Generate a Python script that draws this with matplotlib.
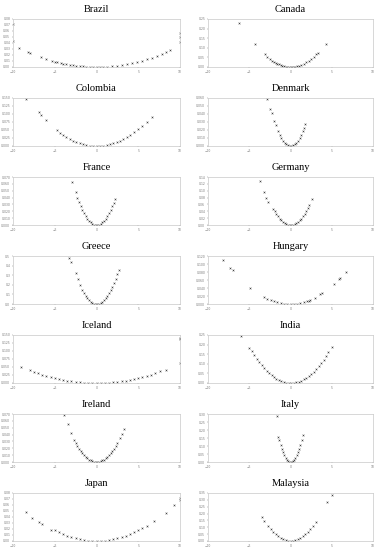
import numpy as np
import matplotlib
matplotlib.use("Agg")
import matplotlib.pyplot as plt

# 各国のデータ (x: 偏差, y: 値) - 画像から読み取った推定値
countries = ["Brazil", "Canada", "Colombia", "Denmark", "France", "Germany", "Greece",
             "Hungary", "Iceland", "India", "Ireland", "Italy", "Japan", "Malaysia"]

brazil_x = [-10, -10, -9.3, -8.2, -8.0, -6.7, -6.0, -5.3, -5.0, -4.7, -4.3, -4.0, -3.6, -3.2, -2.8, -2.4, -2.0, -1.6,
            -1.2, -0.8, -0.4, 0.0, 0.4, 0.8, 1.3, 1.8, 2.4, 3.0, 3.6, 4.2, 4.8, 5.4, 6.0, 6.6, 7.2, 7.8, 8.3, 8.8,
            10, 10, 10]
brazil_y = [0.072, 0.043, 0.0311, 0.0242, 0.0230, 0.0162, 0.0130, 0.0101, 0.0090, 0.0080, 0.0067, 0.0058, 0.0047,
            0.0037, 0.0028, 0.0021, 0.0014, 0.0009, 0.0005, 0.0002, 0.0001, 0.0, 0.0001, 0.0002, 0.0006, 0.0012,
            0.0021, 0.0032, 0.0047, 0.0064, 0.0083, 0.0105, 0.0130, 0.0157, 0.0187, 0.0219, 0.0248, 0.0279,
            0.057, 0.050, 0.042]

canada_x = [-6.3, -4.3, -3.1, -2.8, -2.5, -2.2, -2.0, -1.8, -1.6, -1.4, -1.2, -1.0, -0.8, -0.6, -0.4, -0.2, 0.0,
            0.2, 0.4, 0.6, 0.8, 1.0, 1.3, 1.6, 1.9, 2.2, 2.5, 2.8, 3.1, 3.3, 4.3]
canada_y = [0.229, 0.120, 0.066, 0.054, 0.043, 0.033, 0.028, 0.022, 0.018, 0.0135, 0.010, 0.0069, 0.0044, 0.0025,
            0.0011, 0.0003, 0.0, 0.0003, 0.0011, 0.0025, 0.0044, 0.0069, 0.0117, 0.0177, 0.025, 0.033, 0.043,
            0.054, 0.066, 0.075, 0.120]

colombia_x = [-8.5, -6.9, -6.7, -6.0, -4.75, -4.4, -4.0, -3.6, -3.2, -2.8, -2.4, -2.0, -1.6, -1.2, -0.8, -0.4, 0.0,
              0.4, 0.8, 1.2, 1.6, 2.0, 2.4, 2.8, 3.2, 3.6, 4.0, 4.5, 5.0, 5.5, 6.0, 6.6]
colombia_y = [0.148, 0.105, 0.098, 0.080, 0.050, 0.041, 0.034, 0.027, 0.0215, 0.0165, 0.012, 0.0084, 0.0054,
              0.003, 0.0013, 0.0003, 0.0, 0.0003, 0.0013, 0.003, 0.0054, 0.0084, 0.012, 0.0165, 0.0215, 0.027,
              0.034, 0.0425, 0.0525, 0.0635, 0.0756, 0.091]

denmark_x = [-2.85, -2.45, -2.3, -2.0, -1.8, -1.5, -1.3, -1.1, -0.9, -0.7, -0.5, -0.3, -0.1, 0.1, 0.3, 0.5, 0.7,
             0.9, 1.1, 1.3, 1.5, 1.65, 1.8]
denmark_y = [0.059, 0.046, 0.041, 0.0315, 0.026, 0.019, 0.0142, 0.0102, 0.0068, 0.0041, 0.0021, 0.0008, 0.0001,
             0.0001, 0.0008, 0.0021, 0.0041, 0.0068, 0.0102, 0.0142, 0.019, 0.023, 0.027]

france_x = [-2.9, -2.5, -2.3, -2.1, -1.9, -1.7, -1.5, -1.3, -1.1, -0.9, -0.7, -0.5, -0.3, -0.1, 0.1, 0.3, 0.5, 0.7,
            0.9, 1.1, 1.3, 1.5, 1.7, 1.9, 2.05, 2.2]
france_y = [0.0625, 0.048, 0.040, 0.034, 0.0278, 0.0222, 0.0173, 0.013, 0.0093, 0.0062, 0.0038, 0.0019, 0.0007,
            0.0001, 0.0001, 0.0007, 0.0019, 0.0038, 0.0062, 0.0093, 0.013, 0.0173, 0.0222, 0.0278, 0.0324, 0.0373]

germany_x = [-3.75, -3.2, -2.95, -2.7, -2.1, -1.9, -1.7, -1.5, -1.3, -1.1, -0.9, -0.7, -0.5, -0.3, -0.1, 0.1, 0.3,
             0.5, 0.7, 0.9, 1.1, 1.3, 1.5, 1.7, 1.9, 2.1, 2.3, 2.6]
germany_y = [0.129, 0.096, 0.080, 0.067, 0.046, 0.0397, 0.0318, 0.0248, 0.0186, 0.0133, 0.0089, 0.0054, 0.0028,
             0.001, 0.0001, 0.0001, 0.001, 0.0028, 0.0054, 0.0089, 0.0133, 0.0186, 0.0248, 0.0318, 0.0397, 0.0485,
             0.058, 0.075]

greece_x = [-3.3, -3.1, -2.5, -2.2, -2.0, -1.75, -1.5, -1.3, -1.1, -0.9, -0.7, -0.5, -0.3, -0.1, 0.1, 0.3, 0.5,
            0.7, 0.9, 1.1, 1.3, 1.5, 1.7, 1.9, 2.1, 2.3, 2.5, 2.65]
greece_y = [0.48, 0.44, 0.32, 0.26, 0.20, 0.15, 0.112, 0.085, 0.06, 0.04, 0.025, 0.0125, 0.0045, 0.0005, 0.0005,
            0.0045, 0.0125, 0.025, 0.04, 0.06, 0.085, 0.112, 0.145, 0.18, 0.22, 0.265, 0.31, 0.35]

hungary_x = [-8.2, -7.3, -7.0, -4.85, -3.2, -2.8, -2.4, -2.0, -1.6, -1.2, -0.8, -0.4, 0.0, 0.4, 0.8, 1.2, 1.6, 2.0,
             2.2, 2.4, 3.0, 3.6, 3.8, 5.25, 5.85, 6.0, 6.75]
hungary_y = [0.111, 0.089, 0.084, 0.039, 0.018, 0.0137, 0.010, 0.007, 0.0045, 0.0025, 0.0011, 0.0003, 0.0, 0.0003,
             0.0011, 0.0025, 0.0045, 0.007, 0.0085, 0.010, 0.015, 0.025, 0.027, 0.050, 0.063, 0.065, 0.080]

iceland_x = [-9.05, -8.0, -7.5, -7.0, -6.5, -6.0, -5.5, -5.0, -4.5, -4.0, -3.5, -3.0, -2.5, -2.0, -1.5, -1.0, -0.5,
             0.0, 0.5, 1.0, 1.5, 2.0, 2.5, 3.0, 3.5, 4.0, 4.5, 5.0, 5.5, 6.0, 6.5, 7.0, 7.6, 8.35, 10, 10, 10]
iceland_y = [0.051, 0.040, 0.035, 0.030, 0.026, 0.022, 0.019, 0.0155, 0.0126, 0.0099, 0.0076, 0.0056, 0.0039,
             0.0025, 0.0014, 0.0006, 0.0002, 0.0, 0.0002, 0.0006, 0.0014, 0.0025, 0.0039, 0.0056, 0.0076, 0.0099,
             0.0126, 0.0155, 0.019, 0.022, 0.026, 0.030, 0.036, 0.042, 0.142, 0.137, 0.061]

india_x = [-6.0, -5.0, -4.7, -4.4, -4.1, -3.8, -3.5, -3.2, -2.9, -2.6, -2.3, -2.0, -1.7, -1.4, -1.1, -0.8, -0.5,
           -0.2, 0.1, 0.4, 0.7, 1.0, 1.3, 1.6, 1.9, 2.2, 2.5, 2.8, 3.1, 3.4, 3.7, 4.0, 4.3, 4.6, 5.05]
india_y = [0.246, 0.18, 0.166, 0.145, 0.126, 0.108, 0.092, 0.077, 0.063, 0.051, 0.040, 0.030, 0.0217, 0.0147,
           0.0091, 0.0048, 0.0019, 0.0003, 0.0001, 0.0012, 0.0037, 0.0075, 0.0127, 0.0192, 0.027, 0.036, 0.047,
           0.059, 0.072, 0.087, 0.103, 0.12, 0.139, 0.159, 0.19]

ireland_x = [-3.85, -3.4, -3.0, -2.7, -2.5, -2.3, -2.1, -1.9, -1.7, -1.5, -1.3, -1.1, -0.9, -0.7, -0.5, -0.3, -0.1,
             0.1, 0.3, 0.5, 0.7, 0.9, 1.1, 1.3, 1.5, 1.7, 1.9, 2.1, 2.3, 2.5, 2.8, 3.05, 3.3]
ireland_y = [0.0686, 0.055, 0.042, 0.032, 0.0275, 0.0233, 0.0194, 0.0159, 0.0127, 0.0099, 0.0074, 0.0053, 0.0036,
             0.0022, 0.0011, 0.0004, 0.0001, 0.0001, 0.0004, 0.0011, 0.0022, 0.0036, 0.0053, 0.0074, 0.0099, 0.0127,
             0.0159, 0.0194, 0.0233, 0.0275, 0.0345, 0.041, 0.048]

italy_x = [-1.6, -1.5, -1.35, -1.2, -1.05, -0.9, -0.75, -0.6, -0.45, -0.3, -0.15, 0.0, 0.15, 0.3, 0.45, 0.6, 0.75,
           0.9, 1.05, 1.2, 1.35, 1.5]
italy_y = [0.29, 0.155, 0.137, 0.108, 0.083, 0.061, 0.042, 0.027, 0.015, 0.0068, 0.0017, 0.0, 0.0017, 0.0068,
           0.015, 0.027, 0.042, 0.061, 0.083, 0.108, 0.137, 0.17]

japan_x = [-8.5, -7.7, -6.9, -6.5, -5.5, -5.0, -4.5, -4.0, -3.5, -3.0, -2.5, -2.0, -1.5, -1.0, -0.5, 0.0, 0.5, 1.0,
           1.5, 2.0, 2.5, 3.0, 3.5, 4.0, 4.5, 5.0, 5.5, 6.0, 6.9, 8.3, 9.3, 10, 10]
japan_y = [0.0476, 0.039, 0.031, 0.029, 0.019, 0.0178, 0.0144, 0.0114, 0.0087, 0.0064, 0.0044, 0.0028, 0.0016,
           0.0007, 0.0002, 0.0, 0.0002, 0.0007, 0.0016, 0.0028, 0.0044, 0.0064, 0.0087, 0.0114, 0.0144, 0.0178,
           0.0215, 0.0256, 0.034, 0.046, 0.060, 0.071, 0.068]

malaysia_x = [-3.5, -3.2, -2.7, -2.4, -2.1, -1.8, -1.5, -1.2, -0.9, -0.6, -0.3, 0.0, 0.3, 0.6, 0.9, 1.2, 1.5, 1.8,
              2.1, 2.4, 2.7, 3.1, 4.4, 5.0]
malaysia_y = [0.177, 0.149, 0.107, 0.085, 0.065, 0.048, 0.033, 0.021, 0.012, 0.0053, 0.0013, 0.0, 0.0013, 0.0053,
              0.012, 0.021, 0.033, 0.048, 0.065, 0.085, 0.108, 0.142, 0.287, 0.336]

# y軸の上限と目盛り間隔
y_top = [0.08, 0.25, 0.15, 0.06, 0.07, 0.14, 0.5, 0.12, 0.15, 0.25, 0.07, 0.30, 0.08, 0.35]
y_step = [0.01, 0.05, 0.025, 0.01, 0.01, 0.02, 0.1, 0.02, 0.025, 0.05, 0.01, 0.05, 0.01, 0.05]
y_fmt = ["%.2f", "%.2f", "%.3f", "%.3f", "%.3f", "%.2f", "%.1f", "%.3f", "%.3f", "%.2f", "%.3f", "%.2f", "%.2f", "%.2f"]
x_ticks = [-10, -5, 0, 5, 10]

xs = [brazil_x, canada_x, colombia_x, denmark_x, france_x, germany_x, greece_x,
      hungary_x, iceland_x, india_x, ireland_x, italy_x, japan_x, malaysia_x]
ys = [brazil_y, canada_y, colombia_y, denmark_y, france_y, germany_y, greece_y,
      hungary_y, iceland_y, india_y, ireland_y, italy_y, japan_y, malaysia_y]

W, H = 377, 550
fig = plt.figure(figsize=(W / 100, H / 100), dpi=100)

for i, name in enumerate(countries):
    row, col = i // 2, i % 2
    left = 13 if col == 0 else 208
    width = 167 if col == 0 else 165
    top = 19 + 79 * row
    height = 48
    ax = fig.add_axes([left / W, 1 - (top + height) / H, width / W, height / H])
    ax.scatter(xs[i], ys[i], marker="x", s=1.6, color="#444444", linewidths=0.4)
    ax.set_xlim(-10, 10)
    ax.set_ylim(0, y_top[i])
    ax.set_xticks(x_ticks)
    ax.set_yticks(np.arange(0, y_top[i] + y_step[i] / 2, y_step[i]))
    ax.yaxis.set_major_formatter(matplotlib.ticker.FormatStrFormatter(y_fmt[i]))
    ax.tick_params(labelsize=2.2, length=1, width=0.3, pad=1, colors="#777777")
    for sp in ax.spines.values():
        sp.set_color("#c8c8c8")
        sp.set_linewidth(0.5)
    ax.set_title(name, fontsize=7.5, family="Liberation Serif", pad=5)

plt.savefig("out.png", dpi=100)
